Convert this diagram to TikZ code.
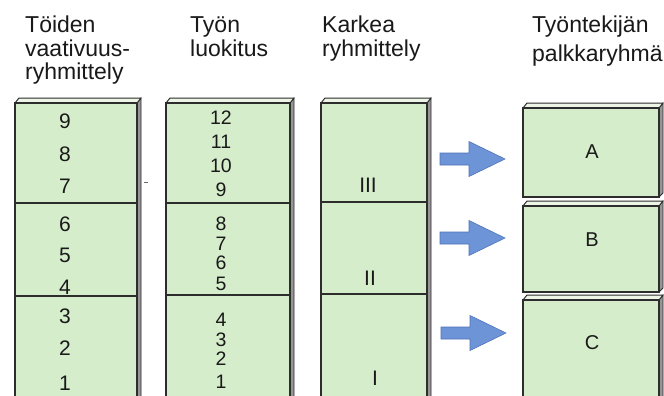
\documentclass[tikz,border=0pt]{standalone}
\usepackage{fontspec}
\setmainfont{Liberation Sans}
\definecolor{slabgreen}{RGB}{214,237,204}
\definecolor{slabtop}{RGB}{236,245,230}
\definecolor{slabside}{RGB}{150,150,150}
\definecolor{edgegray}{RGB}{45,45,45}
\definecolor{arrowblue}{RGB}{108,148,214}
\definecolor{arrowedge}{RGB}{80,115,185}
\definecolor{inkgray}{RGB}{25,25,25}
% a flat box seen slightly from above: front face, top face and right side face
\newcommand\drawslab[4]{%
  \filldraw[sideface] (#3,#2) -- (#3+4,#2-5) -- (#3+4,#4-4) -- (#3,#4) -- cycle;
  \filldraw[topface] (#1,#2) -- (#1+4,#2-5) -- (#3+4,#2-5) -- (#3,#2) -- cycle;
  \filldraw[frontface] (#1,#2) rectangle (#3,#4);
}
\begin{document}
\begin{tikzpicture}[x=1pt,y=-1pt,
  frontface/.style={fill=slabgreen,draw=edgegray,line width=1.1pt},
  topface/.style={fill=slabtop,draw=edgegray,line width=1pt,line join=round},
  sideface/.style={fill=slabside,draw=edgegray,line width=0.8pt},
  divider/.style={draw=edgegray,line width=1.1pt},
  title/.style={anchor=base west,inner sep=0pt,text=inkgray,font=\fontsize{23}{27}\selectfont},
  numA/.style={inner sep=0pt,text=inkgray,font=\fontsize{21}{23}\selectfont},
  numB/.style={inner sep=0pt,text=inkgray,font=\fontsize{19.5}{21}\selectfont},
  grp/.style={inner sep=0pt,text=inkgray,font=\fontsize{20}{22}\selectfont},
  blockarrow/.pic={\filldraw[fill=arrowblue,draw=arrowedge,line width=0.6pt,line join=miter]
     (-32,-6) -- (-3,-6) -- (-3,-17.5) -- (33,0) -- (-3,17.5) -- (-3,6) -- (-32,6) -- cycle;}]
\useasboundingbox (0,0) rectangle (664,396);
\clip (0,0) rectangle (664,396);
\fill[white] (0,0) rectangle (664,396);

% column headings
\node[title] (h1a) at (25,33) {Töiden};
\node[title] (h1b) at (25,57) {vaativuus-};
\node[title] (h1c) at (25,80) {ryhmittely};
\node[title] (h2a) at (190,33) {Työn};
\node[title] (h2b) at (190,57) {luokitus};
\node[title] (h3a) at (322,33) {Karkea};
\node[title] (h3b) at (322,57) {ryhmittely};
\node[title] (h4a) at (532,33) {Työntekijän};
\node[title] (h4b) at (532,62) {palkkaryhmä};

% job demand levels 1-9
\drawslab{15}{103}{137}{404}
\draw[divider] (15,203) -- (137,203);
\draw[divider] (15,296) -- (137,296);
\foreach \v/\y in {9/121,8/154,7/186,6/224,5/255,4/287,3/316,2/348,1/383}
  \node[numA] (a\v) at (65,\y) {\v};
\draw[edgegray!70,line width=0.8pt] (144,182) -- (148,182);

% job classes 1-12
\drawslab{166}{103}{290}{404}
\draw[divider] (166,203) -- (290,203);
\draw[divider] (166,295) -- (290,295);
\foreach \v/\y in {12/118,11/142,10/166,9/190,8/224,7/244,6/263,5/284,4/320,3/340,2/359,1/382}
  \node[numB] (b\v) at (221,\y) {\v};

% coarse groups I-III
\drawslab{321}{103}{427}{404}
\draw[divider] (321,202) -- (427,202);
\draw[divider] (321,294) -- (427,294);
\node[numA] (g3) at (368,185) {III};
\node[numA] (g2) at (370,278) {II};
\node[numA] (g1) at (375,378) {I};

% pay groups A-C
\drawslab{523}{108}{659}{197}
\drawslab{523}{206}{659}{292}
\drawslab{523}{300}{659}{404}
\node[grp] (pA) at (592,152) {A};
\node[grp] (pB) at (592,240) {B};
\node[grp] (pC) at (592,343) {C};

% arrows from the coarse groups to the pay groups
\coordinate (arA) at (472,159);
\coordinate (arB) at (472,238);
\coordinate (arC) at (473,333);
\pic at (arA) {blockarrow};
\pic at (arB) {blockarrow};
\pic at (arC) {blockarrow};
\end{tikzpicture}
\end{document}
